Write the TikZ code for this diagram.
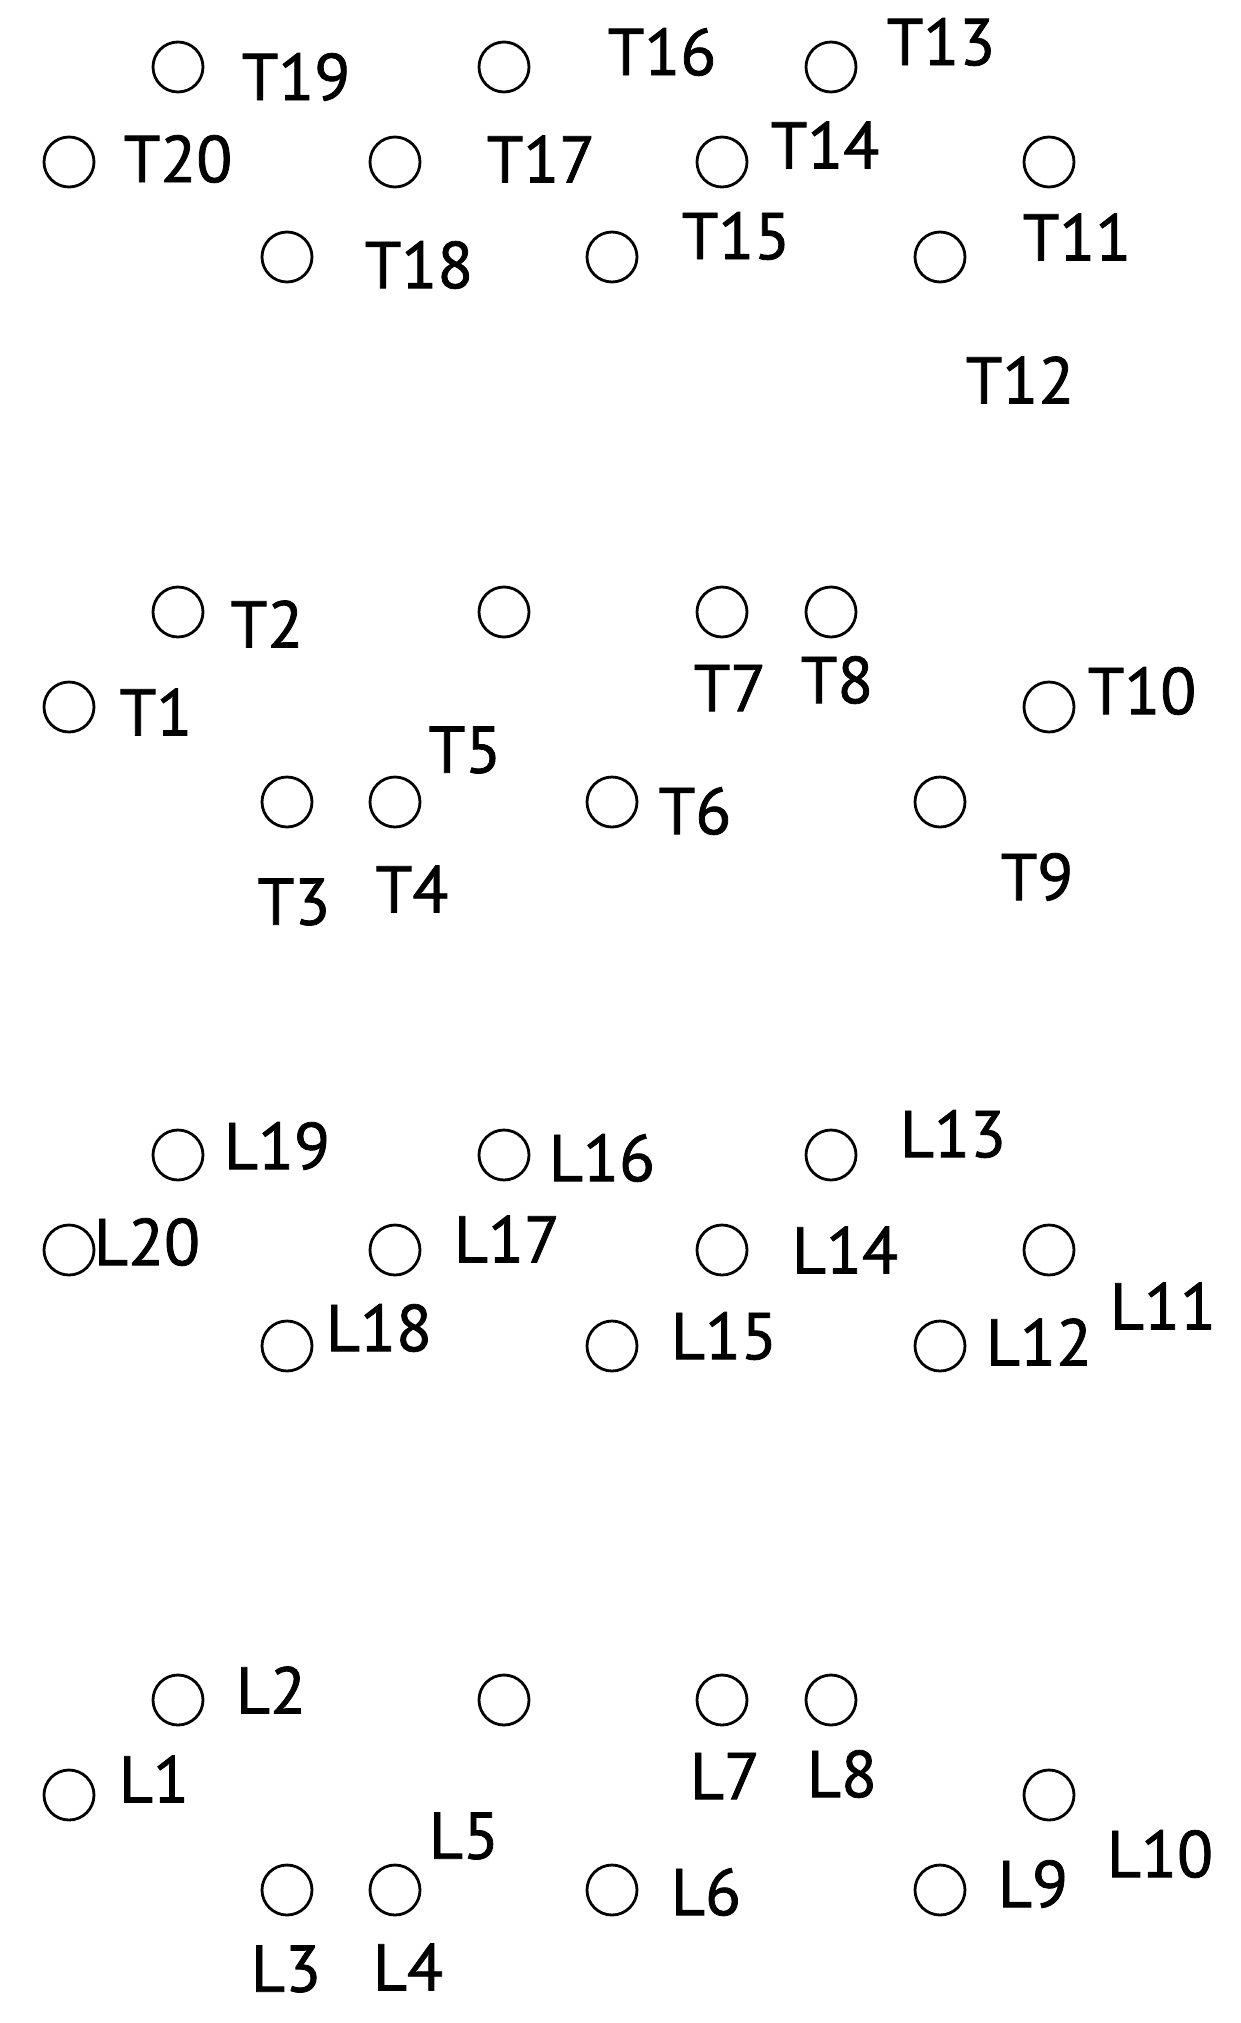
\documentclass[tikz,border=0pt]{standalone}
\usepackage{fontspec}
\setmainfont{PT Sans}
\newfontfamily\holefont{PT Sans}[FakeBold=1.2]
\begin{document}
\begin{tikzpicture}[x=0.5pt, y=-0.5pt,
  hole/.style={circle, draw, line width=1.4pt, minimum size=25pt, inner sep=0pt},
  holelabel/.style={inner sep=0pt, font=\holefont\fontsize{33}{40}\selectfont}]
\useasboundingbox (0,0) rectangle (1241,2023);
% T group, upper rows
\foreach \n/\x/\y in {T19/178/67, T16/504/67, T13/831/67, T20/69/162, T17/395/162, T14/722/162, T11/1049/162, T18/287/257, T15/612/257, T12/940/257} \node[hole] (\n) at (\x,\y) {};
\foreach \n/\x/\y in {T19/296/77, T16/662/52, T13/941/42, T20/178/159, T17/541/159, T14/825/145, T11/1077/237, T18/419/265, T15/736/236, T12/1020/380} \node[holelabel] (l\n) at (\x,\y) {\n};
% T group, lower rows
\foreach \n/\x/\y in {T2/178/612, T5/504/612, T7/722/612, T8/831/612, T1/69/707, T10/1049/707, T3/287/802, T4/395/802, T6/612/802, T9/940/802} \node[hole] (\n) at (\x,\y) {};
\foreach \n/\x/\y in {T2/267/624, T1/156/712, T5/465/750, T3/294/902, T4/412/889, T7/730/688, T8/837/680, T10/1142/691, T6/695/811, T9/1037/877} \node[holelabel] (l\n) at (\x,\y) {\n};
% L group, upper rows
\foreach \n/\x/\y in {L19/178/1155, L16/504/1155, L13/831/1155, L20/69/1250, L17/395/1250, L14/722/1250, L11/1049/1250, L18/287/1346, L15/612/1346, L12/940/1346} \node[hole] (\n) at (\x,\y) {};
\foreach \n/\x/\y in {L19/277/1146, L16/602/1158, L13/953/1134, L20/147/1242, L17/507/1239, L14/845/1250, L11/1163/1306, L18/379/1328, L15/724/1336, L12/1039/1342} \node[holelabel] (l\n) at (\x,\y) {\n};
% L group, lower rows
\foreach \n/\x/\y in {L2/178/1700, L5/504/1700, L7/722/1700, L8/831/1700, L1/69/1795, L10/1049/1795, L3/287/1890, L4/395/1890, L6/612/1890, L9/940/1890} \node[hole] (\n) at (\x,\y) {};
\foreach \n/\x/\y in {L2/271/1690, L1/154/1779, L5/464/1836, L3/286/1969, L4/408/1967, L7/725/1776, L8/842/1774, L6/706/1892, L9/1033/1884, L10/1160/1854} \node[holelabel] (l\n) at (\x,\y) {\n};
\end{tikzpicture}
\end{document}
